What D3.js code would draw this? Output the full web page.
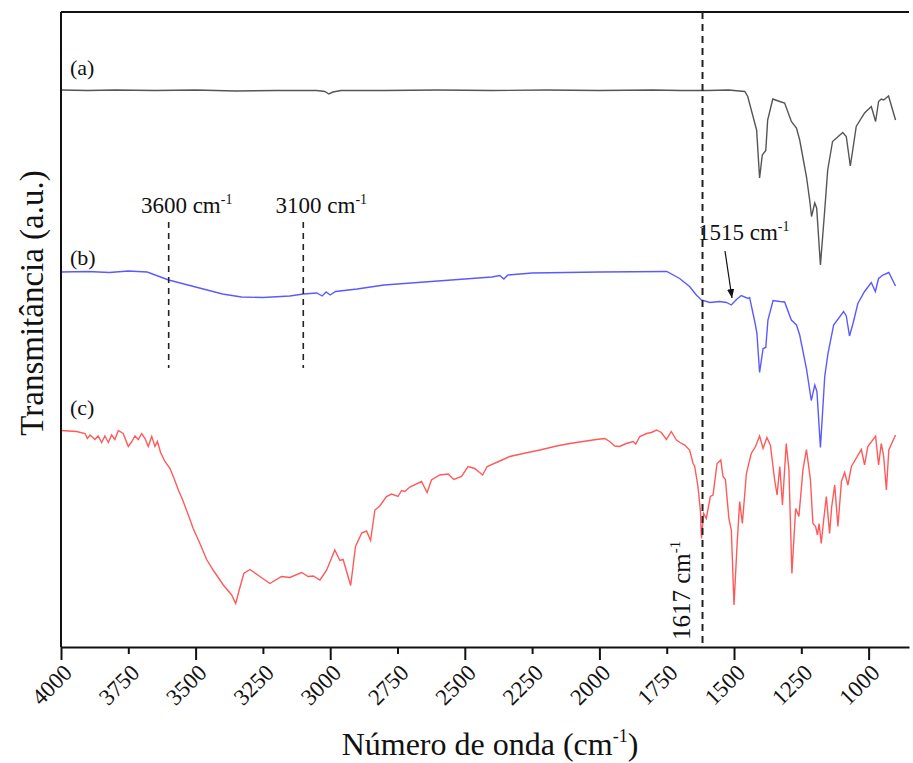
<!DOCTYPE html>
<html>
<head>
<meta charset="utf-8">
<script src="https://cdn.jsdelivr.net/npm/d3@7"></script>
<style>
  body { margin: 0; background: #fff; }
  text { font-family: "Liberation Serif", "Times New Roman", serif; fill: #111; }
</style>
</head>
<body>
<svg width="913" height="763"></svg>
<script>
// wavenumber (cm-1), transmittance (a.u., offset per sample)
var specA = [
  [4000,111.4],[3900,111.3],[3800,111.4],[3650,111.3],[3500,111.4],[3350,111.2],[3200,111.3],
  [3050,111.3],[3020,111.1],[3005,110.6],[2990,111.0],[2960,111.3],[2800,111.3],[2600,111.4],
  [2400,111.3],[2200,111.4],[2000,111.3],[1800,111.4],[1700,111.3],[1600,111.3],[1520,111.4],
  [1460,111.1],[1449,110.1],[1423,104.8],[1416,103.4],[1405,93.8],[1395,98.4],[1382,99.3],
  [1375,105.4],[1356,109.6],[1330,109.1],[1312,108.8],[1287,105.1],[1268,103.8],[1256,101.4],
  [1231,94.1],[1219,89.4],[1212,86.1],[1200,88.8],[1193,87.8],[1179,76.4],[1163,87.4],
  [1152,95.4],[1134,101.1],[1096,102.9],[1083,102.1],[1068,96.2],[1059,99.4],[1046,104.1],
  [1015,106.8],[990,108.1],[974,105.1],[963,109.1],[953,109.6],[944,109.4],[926,110.2],[900,105.4]
];
var specB = [
  [4000,75.0],[3900,75.1],[3820,74.9],[3750,75.2],[3680,75.0],[3600,73.4],[3500,72.0],
  [3400,70.6],[3330,70.0],[3250,69.9],[3150,70.2],[3100,70.6],[3050,70.8],[3030,70.2],
  [3015,71.0],[3000,70.4],[2980,71.1],[2900,71.6],[2800,72.4],[2600,73.2],[2400,74.0],
  [2370,74.3],[2355,73.6],[2340,74.4],[2250,74.8],[2000,75.0],[1750,75.1],[1702,73.7],
  [1665,72.1],[1640,70.4],[1621,69.4],[1590,68.9],[1553,69.1],[1528,68.9],[1510,68.4],
  [1491,69.5],[1473,70.3],[1448,69.7],[1442,69.9],[1423,65.1],[1415,62.8],[1405,54.9],
  [1392,59.7],[1382,59.9],[1374,65.4],[1355,69.3],[1330,69.1],[1312,69.0],[1287,65.4],
  [1268,64.4],[1256,62.4],[1231,55.7],[1213,49.3],[1200,52.4],[1192,51.1],[1179,39.9],
  [1163,54.1],[1151,58.7],[1130,64.4],[1093,67.1],[1083,66.2],[1071,62.2],[1058,64.7],
  [1040,68.7],[1015,71.1],[990,72.9],[975,71.1],[963,73.7],[947,74.4],[925,74.9],[900,72.2]
];
var specC = [
  [4000,43.3],[3942,43.1],[3911,42.7],[3902,41.7],[3892,42.4],[3874,41.5],[3862,42.2],
  [3849,40.9],[3837,42.2],[3824,40.9],[3812,42.4],[3800,41.5],[3787,43.3],[3769,42.7],
  [3750,40.1],[3737,41.1],[3725,42.2],[3713,41.5],[3700,42.7],[3688,41.7],[3676,40.1],
  [3663,42.1],[3651,40.1],[3642,41.1],[3630,38.9],[3614,37.1],[3595,35.7],[3580,33.7],
  [3564,31.4],[3548,29.4],[3527,26.4],[3509,23.7],[3484,20.7],[3459,17.5],[3435,15.4],
  [3397,12.4],[3366,10.4],[3351,8.7],[3338,11.4],[3321,14.7],[3298,15.5],[3261,14.1],
  [3224,12.7],[3181,14.1],[3150,13.9],[3106,14.9],[3082,14.1],[3063,14.2],[3038,13.4],
  [3013,15.4],[2983,19.4],[2964,17.3],[2952,17.5],[2924,12.3],[2906,20.1],[2883,22.8],
  [2865,23.2],[2850,21.3],[2834,27.4],[2816,28.2],[2791,30.1],[2772,30.6],[2748,30.1],
  [2735,31.3],[2723,31.1],[2704,32.0],[2661,33.1],[2640,30.9],[2624,33.4],[2593,34.4],
  [2562,34.6],[2541,33.5],[2512,34.1],[2488,36.1],[2463,35.7],[2434,34.4],[2417,36.1],
  [2370,37.2],[2333,38.1],[2283,38.7],[2221,39.4],[2159,40.2],[2110,40.7],[2061,41.1],
  [2011,41.5],[1980,41.7],[1962,41.1],[1943,40.2],[1925,40.1],[1900,40.7],[1875,41.1],
  [1865,40.6],[1850,42.1],[1825,42.7],[1807,42.9],[1788,43.4],[1770,42.9],[1751,41.5],
  [1733,43.1],[1714,41.4],[1695,40.7],[1683,40.4],[1665,39.4],[1652,36.7],[1646,36.1],
  [1634,32.1],[1625,27.4],[1621,21.7],[1613,26.7],[1603,25.7],[1588,30.1],[1578,30.4],
  [1563,36.7],[1549,37.4],[1541,34.1],[1532,33.5],[1519,25.7],[1510,23.4],[1500,8.4],
  [1489,20.1],[1479,29.1],[1469,24.7],[1454,34.7],[1436,38.7],[1420,40.1],[1405,42.2],
  [1392,39.7],[1378,41.9],[1365,40.4],[1349,33.4],[1340,30.4],[1330,36.1],[1320,28.4],
  [1306,40.7],[1296,35.4],[1285,14.7],[1271,27.7],[1259,26.1],[1244,35.4],[1231,39.5],
  [1216,33.4],[1207,24.7],[1197,24.1],[1190,22.4],[1184,24.7],[1176,20.7],[1167,25.4],
  [1157,30.1],[1145,22.7],[1137,28.1],[1126,32.4],[1114,24.1],[1101,33.1],[1089,34.9],
  [1077,32.4],[1064,36.1],[1027,39.5],[1015,36.4],[1003,40.1],[974,42.2],[963,36.4],
  [953,40.7],[944,38.1],[934,31.4],[925,39.4],[900,42.4]
];
var spectra = [
  {name: "(a)", data: specA, color: "#555555", labelY: 114.5},
  {name: "(b)", data: specB, color: "#5a5aff", labelY: 76.5},
  {name: "(c)", data: specC, color: "#ff5a5a", labelY: 46.5}
];
var tickValues = [4000,3750,3500,3250,3000,2750,2500,2250,2000,1750,1500,1250,1000];
var guideMarks = [3600, 3100];
var markerLine = 1617;

(function () {
    var svg = d3.select("svg");
    var left = 61, right = 909, plotTop = 12, plotBottom = 647;

    var x = d3.scaleLinear().domain([4000, 850]).range([left, right]);
    var y = d3.scaleLinear().domain([0, 127]).range([plotBottom, plotTop]);

    var line = d3.line()
        .x(function (d) { return x(d[0]); })
        .y(function (d) { return y(d[1]); });

    /*
        Spectra
    */
    svg.selectAll("path.spec").data(spectra).enter().append("path")
        .attr("class", "spec")
        .attr("d", function (d) { return line(d.data); })
        .attr("fill", "none")
        .attr("stroke", function (d) { return d.color; })
        .attr("stroke-width", 1.4);

    svg.selectAll("text.specLabel").data(spectra).enter().append("text")
        .attr("class", "specLabel")
        .attr("x", 70)
        .attr("y", function (d) { return y(d.labelY); })
        .attr("font-size", 22)
        .text(function (d) { return d.name; });

    /*
        Frame and axis
    */
    svg.append("line").attr("x1", left).attr("x2", left).attr("y1", plotTop).attr("y2", plotBottom)
        .attr("stroke", "#111").attr("stroke-width", 2);
    svg.append("line").attr("x1", left).attr("x2", right).attr("y1", plotTop).attr("y2", plotTop)
        .attr("stroke", "#111").attr("stroke-width", 2);

    var xAxis = svg.append("g")
        .attr("transform", "translate(0," + plotBottom + ")")
        .call(d3.axisBottom(x).tickValues(tickValues).tickSizeOuter(0).tickFormat(d3.format("d")));
    xAxis.select(".domain").attr("stroke", "#111").attr("stroke-width", 2);
    xAxis.selectAll(".tick line")
        .attr("stroke", "#111").attr("stroke-width", 2)
        .attr("y2", function (d) { return d % 500 === 0 ? 13 : 7; });
    xAxis.selectAll(".tick text")
        .attr("font-family", "Liberation Serif, serif")
        .attr("font-size", 23)
        .attr("fill", "#111")
        .attr("text-anchor", "end")
        .attr("dy", 0)
        .attr("x", 0)
        .attr("y", 0)
        .attr("transform", "translate(12,27) rotate(-45)");

    // x title
    var xt = svg.append("text")
        .attr("x", 490).attr("y", 755)
        .attr("text-anchor", "middle")
        .attr("font-size", 32);
    xt.append("tspan").text("Número de onda (cm");
    xt.append("tspan").attr("font-size", 18).attr("dy", -13).text("-1");
    xt.append("tspan").attr("dy", 13).text(")");

    // y title
    svg.append("text")
        .attr("transform", "translate(43,303) rotate(-90)")
        .attr("text-anchor", "middle")
        .attr("font-size", 33)
        .text("Transmitância (a.u.)");

    /*
        Annotations
    */
    svg.selectAll("line.guide").data(guideMarks).enter().append("line")
        .attr("class", "guide")
        .attr("x1", function (d) { return x(d); })
        .attr("x2", function (d) { return x(d); })
        .attr("y1", y(85)).attr("y2", y(55.8))
        .attr("stroke", "#222").attr("stroke-width", 1.6)
        .attr("stroke-dasharray", "6,5");

    guideMarks.forEach(function (d) {
        var t = svg.append("text")
            .attr("x", x(d) + 18).attr("y", y(86.8))
            .attr("text-anchor", "middle")
            .attr("font-size", 23);
        t.append("tspan").text(d + " cm");
        t.append("tspan").attr("font-size", 14).attr("dy", -9).text("-1");
    });

    svg.append("line")
        .attr("x1", x(markerLine)).attr("x2", x(markerLine))
        .attr("y1", plotTop).attr("y2", plotBottom)
        .attr("stroke", "#222").attr("stroke-width", 2)
        .attr("stroke-dasharray", "7,5");

    var t1617 = svg.append("text")
        .attr("transform", "translate(" + (x(markerLine) - 13) + ",640) rotate(-90)")
        .attr("font-size", 25);
    t1617.append("tspan").text("1617 cm");
    t1617.append("tspan").attr("font-size", 15).attr("dy", -10).text("-1");

    var t1515 = svg.append("text")
        .attr("x", 698).attr("y", y(81.4))
        .attr("font-size", 23);
    t1515.append("tspan").text("1515 cm");
    t1515.append("tspan").attr("font-size", 14).attr("dy", -9).text("-1");

    svg.append("defs").append("marker")
        .attr("id", "arrow")
        .attr("viewBox", "0 0 10 10")
        .attr("refX", 10).attr("refY", 5)
        .attr("markerWidth", 9).attr("markerHeight", 9)
        .attr("markerUnits", "userSpaceOnUse")
        .attr("orient", "auto")
        .append("path").attr("d", "M0,1 L10,5 L0,9 z").attr("fill", "#111");

    svg.append("line")
        .attr("x1", 725).attr("y1", y(79.2))
        .attr("x2", x(1515) + 2).attr("y2", y(69.8))
        .attr("stroke", "#111").attr("stroke-width", 1.2)
        .attr("marker-end", "url(#arrow)");
})();
</script>
</body>
</html>
